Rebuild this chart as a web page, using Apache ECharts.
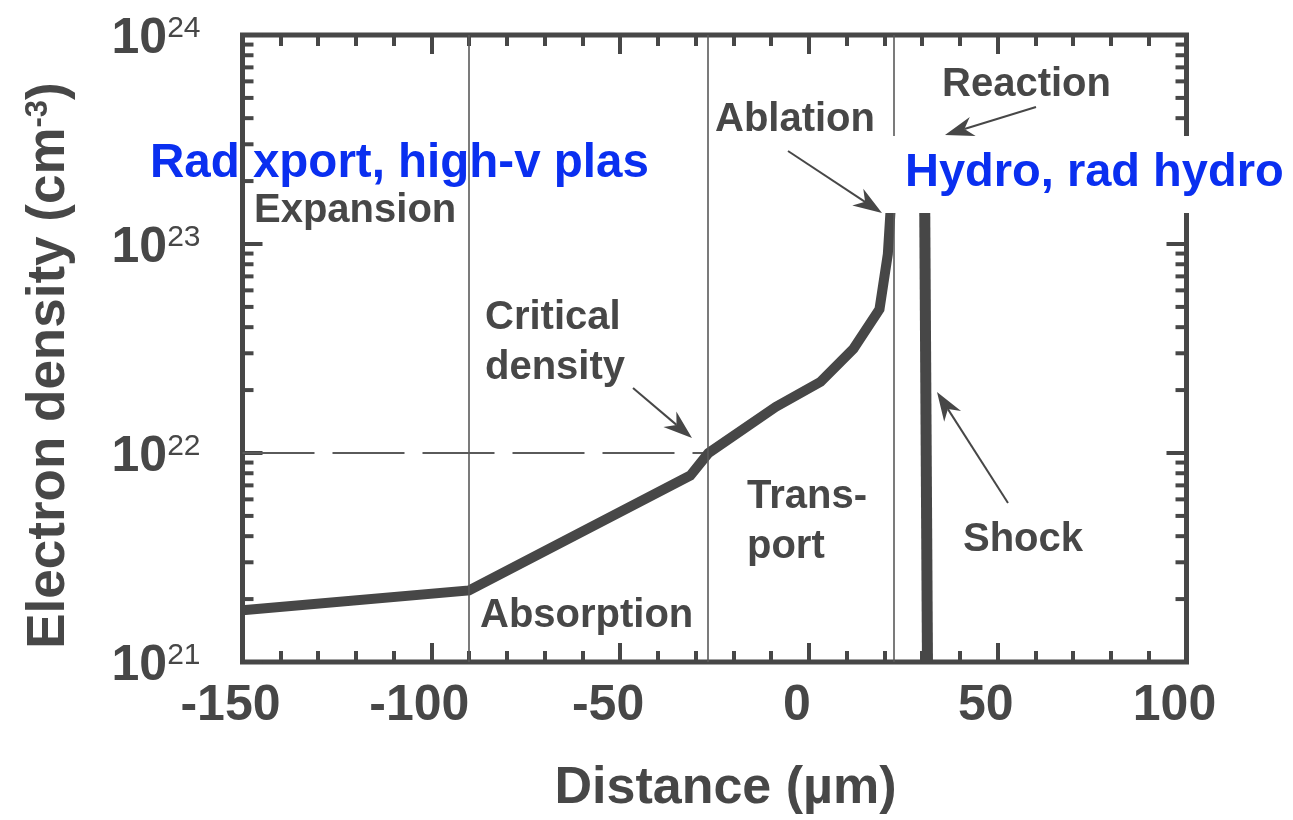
<!DOCTYPE html>
<html>
<head>
<meta charset="utf-8">
<title>Electron density vs distance</title>
<script src="https://cdn.jsdelivr.net/npm/echarts@6/dist/echarts.min.js"></script>
<style>
  html, body { margin: 0; padding: 0; background: #ffffff; }
  #chart { width: 1293px; height: 820px; }
</style>
</head>
<body>
<div id="chart"></div>
<script>
// Electron density profile through the target (distance in µm, density in cm^-3)
const densityX = [-150, -90, -31.4, -26.6, -8.8, 3.1, 11.8, 18.7, 20.9, 21.6, 22.2];
const densityY = [1.77e21, 2.2e21, 7.8e21, 1.0e22, 1.66e22, 2.19e22, 3.15e22, 4.88e22, 8.93e22, 1.42e23, 2.0e23];

// Shock front
const shockX = [31.4, 30.6];
const shockY = [1e21, 2.5e23];

// Critical density level and where the profile reaches it
const criticalDensity = 1e22;
const criticalX = -26.6;

// Region boundaries (µm)
const boundaryX = [-90, -26.7, 22.5];

// Axis ranges and ticks
const X_MIN = -150, X_MAX = 100, X_STEP = 50;
const Y_MIN = 1e21, Y_MAX = 1e24;
const yMinorMultipliers = [2, 3, 4, 5, 6, 7, 8, 9];
const yMinorDecades = [1e21, 1e22, 1e23];

const INK = '#474747';
const THIN = '#5a5a5a';
const BLUE = '#0a2ff0';
const FONT = '"Liberation Sans", Arial, Helvetica, sans-serif';

const yMinorTicks = [];
yMinorDecades.forEach(d => yMinorMultipliers.forEach(m => yMinorTicks.push(m * d)));

const zip = (xs, ys) => xs.map((x, i) => [x, ys[i]]);

const chart = echarts.init(document.getElementById('chart'), null, { renderer: 'canvas' });

const supRich = {
  b: { fontFamily: FONT, fontSize: 50, fontWeight: 'bold', color: INK, lineHeight: 50 },
  s: { fontFamily: FONT, fontSize: 30, fontWeight: 'normal', color: INK, lineHeight: 30, verticalAlign: 'top' }
};

const hiddenLine = { show: false, onZero: false };

const option = {
  animation: false,
  backgroundColor: '#ffffff',
  grid: {
    left: 242.5, right: 106.5, top: 35, bottom: 156,
    show: true, borderColor: INK, borderWidth: 5, backgroundColor: 'transparent'
  },
  xAxis: [{
    type: 'value', min: X_MIN, max: X_MAX, interval: X_STEP, position: 'bottom',
    axisLine: hiddenLine,
    axisTick: { inside: true, length: 19, lineStyle: { color: INK, width: 4 } },
    minorTick: { show: true, splitNumber: 5, length: 11, lineStyle: { color: INK, width: 4 } },
    splitLine: { show: false },
    axisLabel: {
      margin: 19, fontFamily: FONT, fontSize: 50, fontWeight: 'bold', color: INK,
      lineHeight: 50, padding: [0, 24, 0, 0]
    },
    name: 'Distance (µm)', nameLocation: 'middle', nameGap: 101,
    nameTextStyle: {
      fontFamily: FONT, fontSize: 52, fontWeight: 'bold', color: INK,
      lineHeight: 52, padding: [0, 0, 0, 22]
    }
  }, {
    type: 'value', min: X_MIN, max: X_MAX, interval: X_STEP, position: 'top',
    axisLine: hiddenLine,
    axisTick: { inside: true, length: 19, lineStyle: { color: INK, width: 4 } },
    minorTick: { show: true, splitNumber: 5, length: 11, lineStyle: { color: INK, width: 4 } },
    splitLine: { show: false },
    axisLabel: { show: false }
  }],
  yAxis: [{
    type: 'log', logBase: 10, min: Y_MIN, max: Y_MAX, position: 'left',
    axisLine: hiddenLine,
    axisTick: { inside: true, length: 20, lineStyle: { color: INK, width: 4 } },
    splitLine: { show: false },
    axisLabel: {
      margin: 42,
      formatter: v => '{b|10}{s|' + Math.round(Math.log10(v)) + '}',
      rich: supRich,
      padding: [8, 0, 0, 0]
    },
    name: '{t|Electron density (cm}{s|-3}{t|)}',
    nameLocation: 'middle', nameRotate: 90, nameGap: 167,
    nameTextStyle: {
      padding: [0, 34, 0, 0],
      rich: {
        t: { fontFamily: FONT, fontSize: 53, fontWeight: 'bold', color: INK, lineHeight: 53 },
        s: { fontFamily: FONT, fontSize: 31, fontWeight: 'bold', color: INK, lineHeight: 31, verticalAlign: 'top' }
      }
    }
  }, {
    type: 'log', logBase: 10, min: Y_MIN, max: Y_MAX, position: 'right',
    axisLine: hiddenLine,
    axisTick: { inside: true, length: 20, lineStyle: { color: INK, width: 4 } },
    splitLine: { show: false },
    axisLabel: { show: false }
  }],
  series: [
    {
      // critical density level with region boundaries
      name: 'critical', type: 'line', silent: true,
      data: [[X_MIN, criticalDensity], [criticalX, criticalDensity]],
      symbol: 'none', z: 2,
      lineStyle: { color: THIN, width: 2, type: [72, 18] },
      markLine: {
        silent: true, symbol: 'none', label: { show: false },
        lineStyle: { color: THIN, width: 1.6, type: 'solid' },
        data: boundaryX.map(x => ({ xAxis: x }))
      }
    },
    {
      name: 'density', type: 'line', silent: true,
      data: zip(densityX, densityY),
      symbol: 'none', z: 4,
      lineStyle: { color: INK, width: 10, join: 'miter', cap: 'butt' }
    },
    {
      name: 'shock', type: 'line', silent: true,
      data: zip(shockX, shockY),
      symbol: 'none', z: 4, clip: false,
      lineStyle: { color: INK, width: 11, cap: 'butt' }
    },
    {
      // minor ticks of the log axes (2..9 per decade), both sides
      name: 'minorTicks', type: 'custom', silent: true, clip: false, z: 3,
      data: yMinorTicks.map(v => [X_MIN, v]),
      renderItem: (params, api) => {
        const v = api.value(1);
        const l = api.coord([X_MIN, v]);
        const r = api.coord([X_MAX, v]);
        return {
          type: 'group',
          children: [
            { type: 'line', shape: { x1: l[0], y1: l[1], x2: l[0] + 11, y2: l[1] }, style: { stroke: INK, lineWidth: 4 } },
            { type: 'line', shape: { x1: r[0], y1: r[1], x2: r[0] - 11, y2: r[1] }, style: { stroke: INK, lineWidth: 4 } }
          ]
        };
      }
    }
  ]
};

chart.setOption(option);

// Annotations: labels, arrows and the highlighted regime label
function label(text, x, y) {
  return {
    type: 'text', z: 110, silent: true,
    style: {
      text: text, x: x, y: y, fill: INK,
      fontFamily: FONT, fontSize: 40, fontWeight: 'bold',
      align: 'left', verticalAlign: 'middle'
    }
  };
}

function arrow(x1, y1, x2, y2) {
  const dx = x2 - x1, dy = y2 - y1, len = Math.hypot(dx, dy);
  const ux = dx / len, uy = dy / len, nx = -uy, ny = ux;
  const L = 29, W = 10, N = 0.7;
  const bx = x2 - ux * L, by = y2 - uy * L;
  const kx = x2 - ux * L * N, ky = y2 - uy * L * N;
  return [
    { type: 'line', z: 112, silent: true, shape: { x1: x1, y1: y1, x2: kx, y2: ky }, style: { stroke: INK, lineWidth: 2 } },
    { type: 'polygon', z: 112, silent: true,
      shape: { points: [[x2, y2], [bx + nx * W, by + ny * W], [kx, ky], [bx - nx * W, by - ny * W]] },
      style: { fill: INK } }
  ];
}

function blue(text, x, y, size) {
  return {
    type: 'text', z: 111, silent: true,
    style: {
      text: text, x: x, y: y, fill: BLUE,
      fontFamily: FONT, fontSize: size, fontWeight: 'bold',
      align: 'left', verticalAlign: 'middle'
    }
  };
}

const graphics = [
  label('Expansion', 254, 211),
  label('Critical', 485, 318),
  label('density', 485, 368),
  label('Absorption', 480, 616),
  label('Trans-', 747, 497),
  label('port', 747, 547),
  label('Shock', 963, 540),
  label('Ablation', 715, 120),
  label('Reaction', 942, 85),
  { type: 'rect', z: 100, silent: true, shape: { x: 883, y: 136, width: 410, height: 77 }, style: { fill: '#ffffff' } },
  blue('Rad xport, high-v plas', 150, 164, 47.5),
  blue('Hydro, rad hydro', 905, 173, 47)
]
  .concat(arrow(633, 388, 692, 438))
  .concat(arrow(788, 151, 882, 213))
  .concat(arrow(1036, 107, 945, 135))
  .concat(arrow(1008, 503, 937, 392));

chart.setOption({ graphic: { elements: graphics } });
</script>
</body>
</html>
